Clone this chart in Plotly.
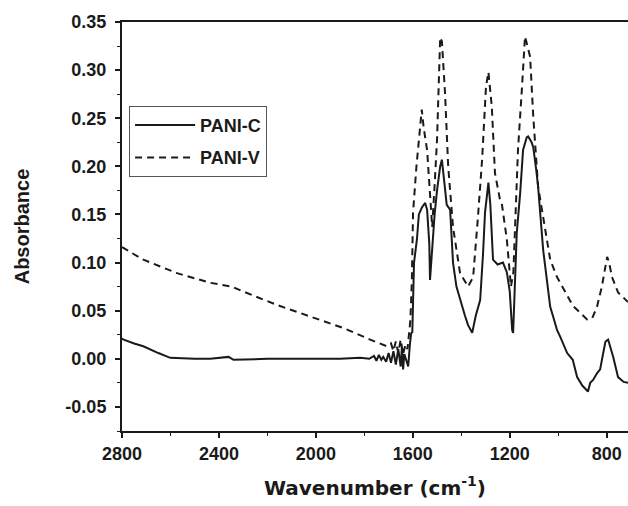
import plotly.graph_objects as go

# PANI-C (solid)
wn_c = [2800, 2793, 2750, 2712, 2650, 2601, 2500, 2436, 2360, 2340, 2200, 2024, 1900, 1817,
        1780, 1760, 1750, 1740, 1730, 1722, 1710, 1700, 1690, 1680, 1670, 1660, 1650, 1645,
        1640, 1635, 1625, 1619, 1612, 1607, 1602, 1599, 1595, 1583, 1575, 1563, 1549, 1541,
        1532, 1529, 1522, 1510, 1500, 1487, 1480, 1470, 1460, 1446, 1434, 1420, 1405, 1385,
        1372, 1355, 1340, 1322, 1310, 1302, 1288, 1280, 1269, 1250, 1228, 1212, 1200, 1190,
        1186, 1178, 1171, 1157, 1145, 1130, 1124, 1110, 1103, 1090, 1083, 1062, 1045, 1033,
        1021, 1005, 992, 963, 940, 922, 900, 877, 868, 856, 840, 827, 815, 805, 794, 785, 773,
        753, 730, 712]
ab_c = [0.021, 0.020, 0.016, 0.013, 0.006, 0.001, 0.0, 0.0, 0.002, -0.001, 0.0, 0.0, 0.0, 0.001,
        0.0, 0.003, -0.002, 0.004, -0.001, 0.002, -0.003, 0.006, -0.004, 0.008, -0.006, 0.010, -0.008, 0.012,
        -0.011, 0.005, -0.005, -0.008, 0.015, 0.026, 0.028, 0.060, 0.100, 0.124, 0.150, 0.157, 0.162, 0.155,
        0.120, 0.082, 0.110, 0.150, 0.175, 0.200, 0.207, 0.180, 0.160, 0.155, 0.100, 0.075, 0.061, 0.045,
        0.035, 0.027, 0.045, 0.061, 0.110, 0.152, 0.183, 0.160, 0.103, 0.098, 0.100, 0.090, 0.070, 0.030,
        0.027, 0.080, 0.131, 0.172, 0.217, 0.230, 0.231, 0.225, 0.220, 0.195, 0.179, 0.113, 0.080, 0.054,
        0.044, 0.030, 0.023, 0.006, -0.001, -0.019, -0.028, -0.034, -0.025, -0.022, -0.015, -0.011, 0.005, 0.018, 0.020, 0.012, 0.002,
        -0.019, -0.024, -0.025]

# PANI-V (dashed)
wn_v = [2800, 2793, 2712, 2573, 2436, 2346, 2300, 2161, 2024, 1887, 1776, 1707, 1690, 1680, 1670,
        1660, 1650, 1640, 1630, 1622, 1610, 1604, 1599, 1585, 1563, 1555, 1541, 1520, 1510, 1500,
        1487, 1480, 1467, 1454, 1434, 1405, 1372, 1351, 1331, 1314, 1298, 1288, 1274, 1261, 1240,
        1233, 1212, 1195, 1185, 1166, 1150, 1137, 1116, 1103, 1083, 1054, 1033, 1005, 971, 939,
        922, 881, 860, 840, 820, 798, 790, 778, 753, 712]
ab_v = [0.116, 0.115, 0.103, 0.089, 0.079, 0.075, 0.070, 0.056, 0.044, 0.032, 0.020, 0.013, 0.016, 0.008, 0.018,
        0.006, 0.020, 0.005, 0.015, 0.010, 0.040, 0.080, 0.152, 0.200, 0.259, 0.240, 0.217, 0.137, 0.180, 0.228,
        0.334, 0.330, 0.276, 0.200, 0.137, 0.089, 0.075, 0.085, 0.148, 0.207, 0.283, 0.298, 0.262, 0.193, 0.165,
        0.162, 0.124, 0.075, 0.090, 0.217, 0.280, 0.335, 0.314, 0.252, 0.179, 0.137, 0.103, 0.085, 0.069, 0.055,
        0.051, 0.041, 0.042, 0.054, 0.075, 0.106, 0.100, 0.085, 0.069, 0.059]

x_ticks = [2800, 2400, 2000, 1600, 1200, 800]
y_ticks = [-0.05, 0.00, 0.05, 0.10, 0.15, 0.20, 0.25, 0.30, 0.35]

ink = "#1a1a1a"
fnt = "Liberation Sans, Arial, sans-serif"

fig = go.Figure()
fig.add_trace(go.Scatter(x=wn_c, y=ab_c, mode="lines", name="PANI-C", legendgroup="c",
                         line=dict(color=ink, width=2)))
fig.add_trace(go.Scatter(x=wn_v, y=ab_v, mode="lines", name="PANI-V", legendgroup="v",
                         line=dict(color=ink, width=2, dash="7px,5px")))

fig.update_layout(
    width=628, height=506,
    margin=dict(l=122, r=0, t=22, b=75),
    paper_bgcolor="white", plot_bgcolor="white",
    font=dict(family=fnt, color=ink, size=18, weight="bold"),
    legend=dict(x=0.014, y=0.795, xanchor="left", yanchor="top",
                bordercolor="#555", borderwidth=1, bgcolor="white",
                font=dict(size=18, weight="bold", family=fnt, color=ink),
                tracegroupgap=6, itemwidth=60),
    xaxis=dict(range=[2800, 712], tickvals=x_ticks,
               ticktext=[str(v) for v in x_ticks],
               showline=True, linecolor=ink, linewidth=2, mirror=True,
               ticks="outside", ticklen=5, tickwidth=2, tickcolor=ink,
               minor=dict(dtick=200, ticks="outside", ticklen=3, tickwidth=1, tickcolor=ink, tick0=0),
               showgrid=False, zeroline=False,
               tickfont=dict(size=18, weight="bold", family=fnt, color=ink),
               title=dict(text="Wavenumber (cm<sup>-1</sup>)",
                          font=dict(size=20, weight="bold", family="DejaVu Sans, sans-serif", color=ink), standoff=18)),
    yaxis=dict(range=[-0.075, 0.35], tickvals=y_ticks,
               ticktext=["%.2f" % v for v in y_ticks],
               showline=True, linecolor=ink, linewidth=2, mirror=False,
               ticks="outside", ticklen=5, tickwidth=2, tickcolor=ink, ticklabelstandoff=5,
               minor=dict(dtick=0.025, tick0=0, ticks="outside", ticklen=3, tickwidth=1, tickcolor=ink),
               showgrid=False, zeroline=False,
               tickfont=dict(size=18, weight="bold", family=fnt, color=ink),
               title=dict(text="Absorbance",
                          font=dict(size=20, weight="bold", family=fnt, color=ink), standoff=30)),
)

fig.write_html("out.html")
